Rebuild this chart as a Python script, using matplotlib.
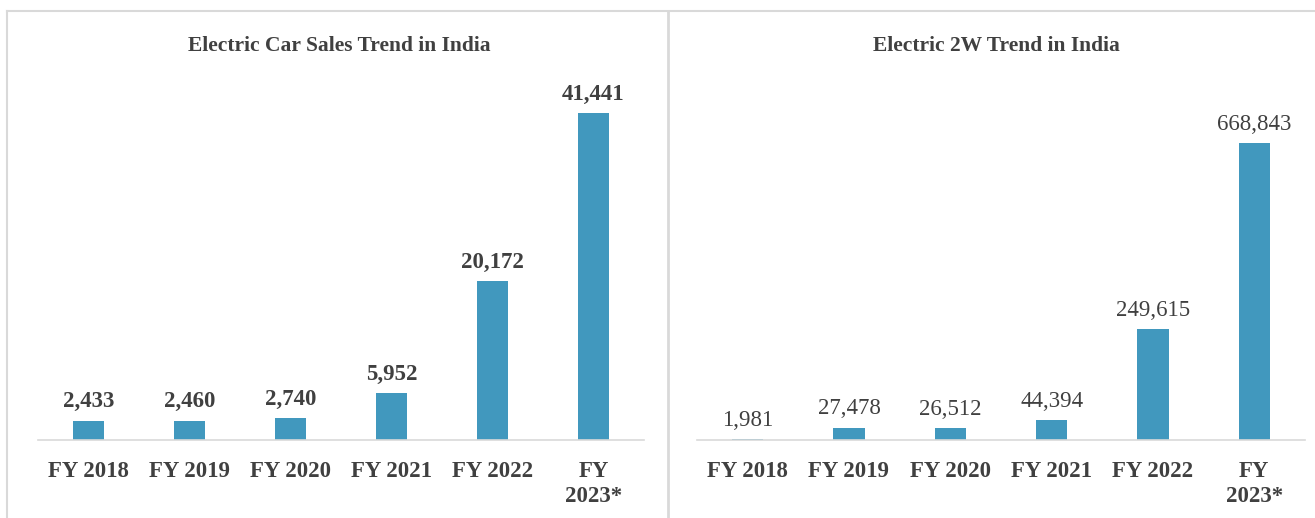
import matplotlib.pyplot as plt

# data
years = ["FY 2018", "FY 2019", "FY 2020", "FY 2021", "FY 2022", "FY\n2023*"]
car_sales = [2433, 2460, 2740, 5952, 20172, 41441]
two_w_sales = [1981, 27478, 26512, 44394, 249615, 668843]

bar_color = "#4198BE"
text_color = "#404040"
grid_color = "#D9D9D9"

plt.rcParams["font.family"] = ["Liberation Serif", "DejaVu Serif"]

fig = plt.figure(figsize=(13.15, 5.18), dpi=100)

# panel borders
fig.add_artist(plt.Line2D([0.005, 1.0], [0.979, 0.979], color=grid_color, lw=1.5))
fig.add_artist(plt.Line2D([0.005, 0.005], [0.0, 0.979], color=grid_color, lw=1.5))
fig.add_artist(plt.Line2D([0.508, 0.508], [0.0, 0.979], color=grid_color, lw=2))

ax1 = fig.add_axes([0.0289, 0.1506, 0.4608, 0.7616])
ax2 = fig.add_axes([0.530, 0.1506, 0.4624, 0.6853])


def draw(ax, values, ymax, weight):
    x = range(len(years))
    bars = ax.bar(x, values, width=0.31, color=bar_color)
    ax.set_ylim(0, ymax)
    ax.set_xlim(-0.5, len(years) - 0.5)
    ax.set_xticks(list(x))
    ax.set_xticklabels(years, fontsize=16.5, fontweight="bold", color=text_color,
                       linespacing=1.25)
    ax.tick_params(axis="x", length=0, pad=15)
    ax.set_yticks([])
    for s in ["top", "right", "left"]:
        ax.spines[s].set_visible(False)
    ax.spines["bottom"].set_color(grid_color)
    ax.spines["bottom"].set_linewidth(1.2)
    labels = [f"{v:,}" for v in values]
    ax.bar_label(bars, labels=labels, padding=6, fontsize=16.5,
                 fontweight=weight, color=text_color)


draw(ax1, car_sales, 50000, "bold")
draw(ax2, two_w_sales, 800000, "normal")

fig.text(0.258, 0.912, "Electric Car Sales Trend in India", ha="center",
         va="center", fontsize=15.5, fontweight="bold", color=text_color)
fig.text(0.758, 0.912, "Electric 2W Trend in India", ha="center",
         va="center", fontsize=15.5, fontweight="bold", color=text_color)

fig.savefig("out.png", dpi=100)
